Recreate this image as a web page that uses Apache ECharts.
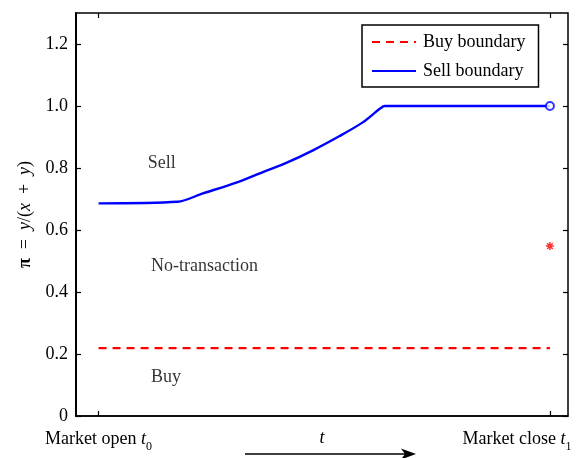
<!DOCTYPE html>
<html>
<head>
<meta charset="utf-8">
<script src="https://cdn.jsdelivr.net/npm/echarts@6/dist/echarts.min.js"></script>
<style>
  html, body { margin: 0; padding: 0; background: #fff; }
  #chart { width: 577px; height: 458px; }
</style>
</head>
<body>
<div id="chart"></div>
<script>
// time axis: 0 = market open, 1 = market close
const sellT = [0, 0.175, 0.231, 0.305, 0.364, 0.412, 0.475, 0.534, 0.586, 0.623, 0.634, 1];
const sellV = [0.686, 0.691, 0.718, 0.753, 0.787, 0.814, 0.857, 0.903, 0.948, 0.991, 1.0, 1.0];
const buyT = [0, 1];
const buyV = [0.219, 0.219];
const closeSell = [1, 1.0];
const closeBuy = [1, 0.548];
const yTicks = [0, 0.2, 0.4, 0.6, 0.8, 1.0, 1.2];
const xTicks = [0, 1];
const xTickLabels = ['{n|Market open }{i|t}{s|0}', '{n|Market close }{i|t}{sr|1}'];
const regionLabels = [
  [0.108, 0.815, 'Sell'],
  [0.115, 0.484, 'No-transaction'],
  [0.115, 0.124, 'Buy']
];

const FONT = '"Liberation Serif", "DejaVu Serif", serif';
const FS = 18;
const chart = echarts.init(document.getElementById('chart'), null, { renderer: 'canvas' });

const zip = (a, b) => a.map((v, i) => [v, b[i]]);
const tickStyle = { show: true, inside: true, length: 5, lineStyle: { color: '#000', width: 1.2 } };

chart.setOption({
  animation: false,
  textStyle: { fontFamily: FONT },
  grid: {
    left: 76, right: 9, top: 13, bottom: 42,
    outerBoundsMode: 'none',
    containLabel: false,
    show: true, borderColor: '#000', borderWidth: 1.5, backgroundColor: '#fff'
  },
  legend: {
    orient: 'vertical',
    left: 362, top: 25,
    padding: [8, 13, 7, 9],
    itemGap: 11,
    itemWidth: 44, itemHeight: 12,
    borderColor: '#000', borderWidth: 1.5,
    backgroundColor: '#fff',
    itemStyle: { color: 'transparent', borderColor: 'transparent', borderWidth: 0 },
    data: ['Buy boundary', 'Sell boundary'],
    textStyle: { fontFamily: FONT, fontSize: FS, color: '#000', padding: [0, 0, 0, 2] }
  },
  xAxis: [
    {
      type: 'value', min: -0.05, max: 1.04,
      position: 'bottom',
      name: 't', nameLocation: 'middle', nameGap: 13,
      nameMoveOverlap: false,
      nameTextStyle: { fontFamily: FONT, fontSize: FS, fontStyle: 'italic', color: '#000', verticalAlign: 'top' },
      axisLine: { show: true, onZero: false, lineStyle: { color: '#000', width: 1.5 } },
      axisTick: Object.assign({ customValues: xTicks }, tickStyle),
      splitLine: { show: false },
      axisLabel: {
        customValues: xTicks,
        margin: 10,
        color: '#000',
        formatter: (v) => xTickLabels[xTicks.indexOf(v)],
        rich: {
          n: { fontFamily: FONT, fontSize: FS, color: '#000', verticalAlign: 'middle', lineHeight: 20 },
          i: { fontFamily: FONT, fontSize: FS, fontStyle: 'italic', color: '#000', verticalAlign: 'middle', lineHeight: 20 },
          s: { fontFamily: FONT, fontSize: 12, color: '#000', verticalAlign: 'bottom', lineHeight: 27 },
          sr: { fontFamily: FONT, fontSize: 12, color: '#000', verticalAlign: 'bottom', lineHeight: 27, padding: [0, 66, 0, 0] }
        }
      }
    },
    {
      type: 'value', min: -0.05, max: 1.04,
      position: 'top',
      axisLine: { show: false, onZero: false },
      axisTick: Object.assign({ customValues: xTicks }, tickStyle),
      axisLabel: { show: false },
      splitLine: { show: false }
    }
  ],
  yAxis: [
    {
      type: 'value', min: 0, max: 1.3,
      position: 'left',
      name: '{g|π}  =  {i|y}/({i|x}  +  {i|y})',
      nameLocation: 'middle', nameGap: 42,
      nameMoveOverlap: false,
      nameTextStyle: {
        rich: {
          g: { fontFamily: FONT, fontSize: FS, fontWeight: 'bold', color: '#000' },
          i: { fontFamily: FONT, fontSize: FS, fontStyle: 'italic', color: '#000' }
        },
        fontFamily: FONT, fontSize: FS, color: '#000'
      },
      axisLine: { show: true, onZero: false, lineStyle: { color: '#000', width: 2 } },
      axisTick: Object.assign({ customValues: yTicks }, tickStyle),
      splitLine: { show: false },
      axisLabel: {
        customValues: yTicks,
        margin: 8,
        fontFamily: FONT, fontSize: FS, color: '#000',
        formatter: (v) => (v === 0 ? '0' : v.toFixed(1))
      }
    },
    {
      type: 'value', min: 0, max: 1.3,
      position: 'right',
      axisLine: { show: false, onZero: false },
      axisTick: Object.assign({ customValues: yTicks }, tickStyle),
      axisLabel: { show: false },
      splitLine: { show: false }
    }
  ],
  series: [
    {
      name: 'Buy boundary',
      type: 'line',
      data: zip(buyT, buyV),
      symbol: 'none',
      lineStyle: { color: '#ff0000', width: 2.2, type: [8, 6] },
      itemStyle: { color: '#ff0000' }
    },
    {
      name: 'Sell boundary',
      type: 'line',
      data: zip(sellT, sellV),
      smooth: 0.3,
      symbol: 'none',
      lineStyle: { color: '#0000ff', width: 2.4 },
      itemStyle: { color: '#0000ff' }
    },
    {
      name: 'sell at close',
      type: 'scatter',
      data: [closeSell],
      symbol: 'circle',
      symbolSize: 8,
      itemStyle: { color: '#fff', borderColor: '#0000ff', borderWidth: 2 },
      z: 5
    },
    {
      name: 'buy at close',
      type: 'scatter',
      data: [closeBuy],
      symbol: 'path://M0,-1L0,1M-1,0L1,0M-0.7,-0.7L0.7,0.7M-0.7,0.7L0.7,-0.7',
      symbolSize: 8,
      itemStyle: { color: 'none', borderColor: '#ff0000', borderWidth: 1.5 },
      z: 5
    },
    {
      name: 'regions',
      type: 'scatter',
      data: regionLabels.map((r) => ({ value: [r[0], r[1]], name: r[2] })),
      symbol: 'circle',
      symbolSize: 1,
      itemStyle: { color: 'transparent' },
      label: {
        show: true,
        position: 'right',
        distance: 0,
        formatter: (p) => p.name,
        fontFamily: FONT, fontSize: FS, color: '#000'
      },
      silent: true
    }
  ],
  graphic: [
    {
      type: 'polyline',
      shape: { points: [[245, 454], [408, 454]] },
      style: { stroke: '#000', lineWidth: 1.3 }
    },
    {
      type: 'polygon',
      shape: { points: [[401, 448.5], [416, 454], [401, 459.5], [405, 454]] },
      style: { fill: '#000' }
    }
  ]
});
</script>
</body>
</html>
